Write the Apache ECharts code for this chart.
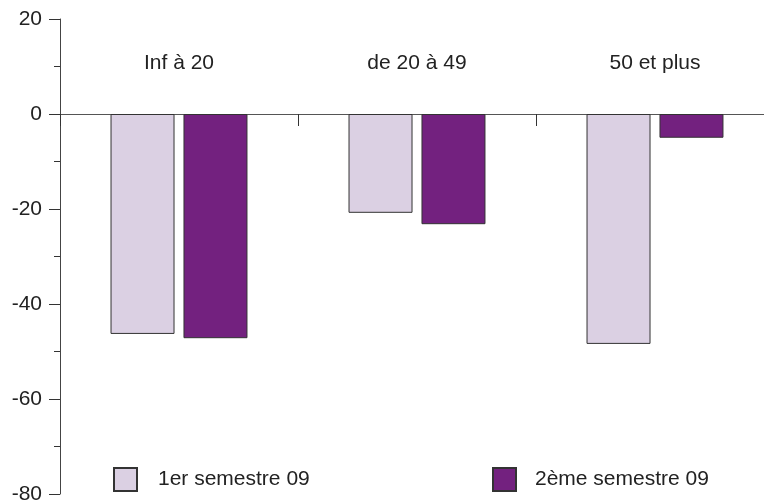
<!DOCTYPE html>
<html>
<head>
<meta charset="utf-8">
<script src="https://cdn.jsdelivr.net/npm/echarts@6/dist/echarts.min.js"></script>
<style>html,body{margin:0;padding:0;background:#fff;overflow:hidden}#c{width:790px;height:502px}</style>
</head>
<body>
<div id="c"></div>
<script>
var categories = ["Inf à 20", "de 20 à 49", "50 et plus"];
var seriesNames = ["1er semestre 09", "2ème semestre 09"];
var sem1 = [-46.3, -20.8, -48.4];
var sem2 = [-47.2, -23.2, -5.0];

var chart = echarts.init(document.getElementById('c'), null, {renderer: 'canvas'});
var font = 'Liberation Sans, Arial, sans-serif';
chart.setOption({
  animation: false,
  backgroundColor: '#fff',
  grid: {left: 60, top: 19, width: 714, height: 475, containLabel: false, outerBoundsMode: 'none'},
  legend: [
    {data: [seriesNames[0]], left: 113, top: 467, padding: 0, itemWidth: 23, itemHeight: 23, icon: 'rect',
     textStyle: {fontFamily: font, fontSize: 21, color: '#222', padding: [0, 0, 0, 16]}},
    {data: [seriesNames[1]], left: 492, top: 467, padding: 0, itemWidth: 23, itemHeight: 23, icon: 'rect',
     textStyle: {fontFamily: font, fontSize: 21, color: '#222', padding: [0, 0, 0, 14]}}
  ],
  xAxis: [
    {
      type: 'category',
      data: categories,
      axisLine: {onZero: true, lineStyle: {color: '#555', width: 1}},
      axisTick: {show: true, length: 12, lineStyle: {color: '#333'}},
      axisLabel: {show: false},
      splitLine: {show: false}
    },
    {
      type: 'category',
      data: categories,
      position: 'top',
      offset: -44,
      axisLine: {show: false, onZero: false},
      axisTick: {show: false},
      axisLabel: {margin: 0, verticalAlign: 'middle', fontFamily: font, fontSize: 21, color: '#222'},
      splitLine: {show: false}
    }
  ],
  yAxis: {
    type: 'value',
    min: -80, max: 20, interval: 20,
    axisLine: {show: true, lineStyle: {color: '#444'}},
    axisTick: {show: true, length: 11, lineStyle: {color: '#333'}},
    minorTick: {show: true, splitNumber: 2, length: 6, lineStyle: {color: '#333'}},
    axisLabel: {margin: 18, fontFamily: font, fontSize: 21, color: '#222'},
    splitLine: {show: false}
  },
  series: [
    {name: seriesNames[0], type: 'bar', data: sem1, barWidth: 64, barGap: '14%',
     itemStyle: {color: '#DBD0E3', borderColor: '#333', borderWidth: 1}},
    {name: seriesNames[1], type: 'bar', data: sem2, barWidth: 64, barGap: '14%',
     itemStyle: {color: '#73217F', borderColor: '#333', borderWidth: 1}}
  ]
});
</script>
</body>
</html>
